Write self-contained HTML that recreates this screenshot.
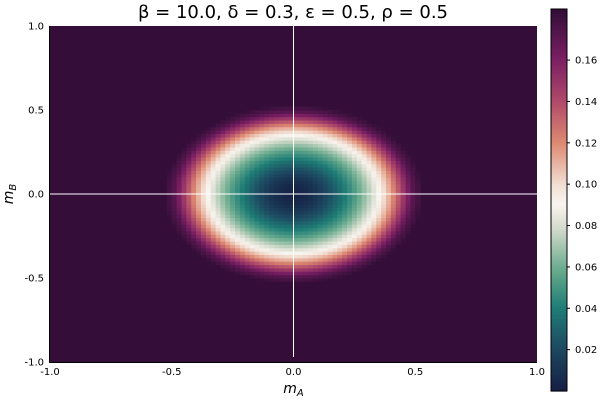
<!DOCTYPE html>
<html><head><meta charset="utf-8">
<style>
html,body{margin:0;padding:0;background:#fff;}
#wrap{position:relative;width:600px;height:400px;overflow:hidden;font-family:"Liberation Sans","DejaVu Sans",sans-serif;}
svg text{font-family:"DejaVu Sans","Liberation Sans",sans-serif;}
</style></head>
<body>
<div id="wrap">
<svg id="chart" width="600" height="400" xmlns="http://www.w3.org/2000/svg">
<text x="293" y="18" text-anchor="middle" font-size="18" fill="#000">β = 10.0, δ = 0.3, ε = 0.5, ρ = 0.5</text>
<g id="cells"></g>
<g id="axes"></g>
<g id="cbar"></g>
</svg>
</div>
<script>
// data: radial profile of the field value vs radius
const radii = [0, 0.05, 0.1, 0.15, 0.2, 0.25, 0.3, 0.35, 0.4, 0.45, 0.49, 0.53, 2.0];
const profileValues = [0.002, 0.005, 0.012, 0.023, 0.037, 0.052, 0.07, 0.09, 0.115, 0.148, 0.172, 0.184, 0.184];
const xTicks = [-1.0, -0.5, 0.0, 0.5, 1.0];
const yTicks = [-1.0, -0.5, 0.0, 0.5, 1.0];
const xTickLabels = ["-1.0", "-0.5", "0.0", "0.5", "1.0"];
const yTickLabels = ["-1.0", "-0.5", "0.0", "0.5", "1.0"];
const cbarTicks = [0.02, 0.04, 0.06, 0.08, 0.10, 0.12, 0.14, 0.16];
const cbarTickLabels = ["0.02", "0.04", "0.06", "0.08", "0.10", "0.12", "0.14", "0.16"];
const gridN = 100;
const cMin = 0.0, cMax = 0.1847;

const NS = "http://www.w3.org/2000/svg";
const PX0 = 50, PX1 = 537, PY0 = 26, PY1 = 362;
const sx = v => PX0 + (v + 1) / 2 * (PX1 - PX0);
const sy = v => PY1 - (v + 1) / 2 * (PY1 - PY0);
const CBX = 551, CBW = 16, CBY0 = 9, CBY1 = 391;
const cy = v => CBY1 - (v - cMin) / (cMax - cMin) * (CBY1 - CBY0);

const cmapStops = [[0,"#151d44"],[0.11,"#1d4861"],[0.22,"#1f7d76"],[0.32,"#6aab8e"],[0.43,"#d6dccd"],[0.49,"#f8f4ef"],[0.54,"#f2e0d4"],[0.65,"#de8a72"],[0.76,"#b04a6a"],[0.87,"#7a1f63"],[1,"#320e38"]];
function hex(h){return [1,3,5].map(i=>parseInt(h.substr(i,2),16));}
function cmap(t){
  t=Math.max(0,Math.min(1,t));
  for(let i=1;i<cmapStops.length;i++){
    if(t<=cmapStops[i][0]){
      const [a,ca]=cmapStops[i-1],[b,cb]=cmapStops[i];
      const f=(t-a)/(b-a),A=hex(ca),B=hex(cb);
      return "rgb("+A.map((v,k)=>Math.round(v+(B[k]-v)*f)).join(",")+")";
    }
  }
  return cmapStops[cmapStops.length-1][1];
}
function profile(r){
  for(let i=1;i<radii.length;i++){
    if(r<=radii[i]){const f=(r-radii[i-1])/(radii[i]-radii[i-1]);return profileValues[i-1]+(profileValues[i]-profileValues[i-1])*f;}
  }
  return profileValues[profileValues.length-1];
}
function mk(tag,attrs,parent){const e=document.createElementNS(NS,tag);for(const k in attrs)e.setAttribute(k,attrs[k]);parent.appendChild(e);return e;}

const cells=document.getElementById("cells");
const bg=mk("rect",{x:PX0,y:PY0,width:PX1-PX0,height:PY1-PY0,fill:cmap((profileValues[profileValues.length-1]-cMin)/(cMax-cMin))},cells);


const step=2/gridN;
for(let i=0;i<gridN;i++){
  for(let j=0;j<gridN;j++){
    const x=-1+(i+0.5)*step,y=-1+(j+0.5)*step;
    const v=profile(Math.hypot(x,y));
    if(v>=profileValues[profileValues.length-1]-1e-9) continue;
    const x0=sx(-1+i*step),x1=sx(-1+(i+1)*step),y0=sy(-1+(j+1)*step),y1=sy(-1+j*step);
    const r=mk("rect",{x:x0,y:y0,width:x1-x0+0.5,height:y1-y0+0.5,fill:cmap((v-cMin)/(cMax-cMin))},cells);
    
    
  }
}
const axes=document.getElementById("axes");
const zv=mk("line",{x1:sx(0),x2:sx(0),y1:PY0,y2:PY1-5,stroke:"#fff","stroke-width":1},axes);


const zh=mk("line",{x1:PX0,x2:PX1,y1:sy(0),y2:sy(0),stroke:"#fff","stroke-width":1},axes);


const xa=mk("line",{x1:PX0,x2:PX1,y1:PY1+0.5,y2:PY1+0.5,stroke:"#000","stroke-width":1},axes);


const ya=mk("line",{x1:PX0-0.5,x2:PX0-0.5,y1:PY0,y2:PY1+1,stroke:"#000","stroke-width":1},axes);


xTicks.forEach((v,i)=>{
  const t=mk("text",{x:sx(v),y:375,"text-anchor":"middle","font-size":10,fill:"#000"},axes);
  t.textContent=xTickLabels[i];
  
  
});
yTicks.forEach((v,i)=>{
  const t=mk("text",{x:44,y:sy(v)+3.5,"text-anchor":"end","font-size":10,fill:"#000"},axes);
  t.textContent=yTickLabels[i];
  
  
});
const xl=mk("text",{x:sx(0),y:393,"text-anchor":"middle","font-size":14,"font-style":"italic",fill:"#000"},axes);
xl.innerHTML='m<tspan font-size="10" dy="3">A</tspan>';


const yl=mk("text",{x:0,y:0,"text-anchor":"middle","font-size":14,"font-style":"italic",fill:"#000",transform:"translate(13,"+sy(0)+") rotate(-90)"},axes);
yl.innerHTML='m<tspan font-size="10" dy="3">B</tspan>';



const cb=document.getElementById("cbar");
const nb=200;
for(let k=0;k<nb;k++){
  const v0=cMin+(cMax-cMin)*k/nb,v1=cMin+(cMax-cMin)*(k+1)/nb;
  const r=mk("rect",{x:CBX,y:cy(v1),width:CBW,height:cy(v0)-cy(v1)+0.6,fill:cmap((v0+v1)/2/(cMax-cMin))},cb);
  
  
}
const fr=mk("rect",{x:CBX,y:CBY0,width:CBW,height:CBY1-CBY0,fill:"none",stroke:"#000","stroke-width":1},cb);


cbarTicks.forEach((v,i)=>{
  const tk=mk("line",{x1:CBX+CBW,x2:CBX+CBW+3,y1:cy(v),y2:cy(v),stroke:"#000"},cb);
  
  
  const t=mk("text",{x:CBX+CBW+8,y:cy(v)+3.5,"font-size":10,fill:"#000"},cb);
  t.textContent=cbarTickLabels[i];
  
  
});
</script>
</body></html>
